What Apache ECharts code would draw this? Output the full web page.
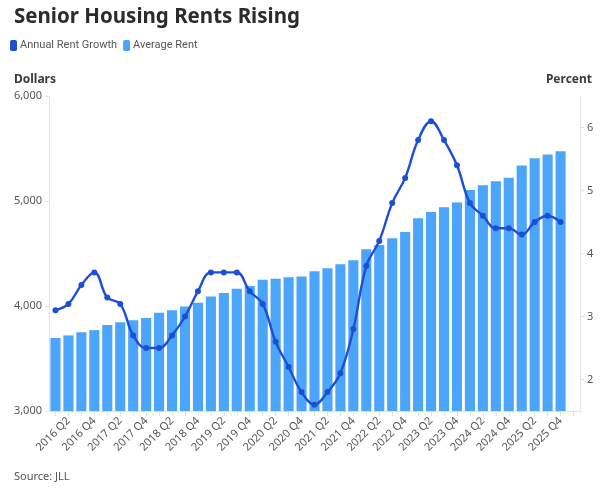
<!DOCTYPE html>
<html>
<head>
<meta charset="utf-8">
<script src="https://cdn.jsdelivr.net/npm/echarts@6/dist/echarts.min.js"></script>
<style>html,body{margin:0;padding:0;background:#fff}#c{width:615px;height:499px}</style>
</head>
<body>
<div id="c"></div>
<script>
const categories = [
  '2016 Q1','2016 Q2','2016 Q3','2016 Q4',
  '2017 Q1','2017 Q2','2017 Q3','2017 Q4',
  '2018 Q1','2018 Q2','2018 Q3','2018 Q4',
  '2019 Q1','2019 Q2','2019 Q3','2019 Q4',
  '2020 Q1','2020 Q2','2020 Q3','2020 Q4',
  '2021 Q1','2021 Q2','2021 Q3','2021 Q4',
  '2022 Q1','2022 Q2','2022 Q3','2022 Q4',
  '2023 Q1','2023 Q2','2023 Q3','2023 Q4',
  '2024 Q1','2024 Q2','2024 Q3','2024 Q4',
  '2025 Q1','2025 Q2','2025 Q3','2025 Q4'
];
const averageRent = [
  3695, 3720, 3750, 3770,
  3820, 3845, 3865, 3885,
  3935, 3960, 3995, 4030,
  4090, 4125, 4165, 4190,
  4250, 4260, 4275, 4282,
  4330, 4360, 4397, 4435,
  4540, 4580, 4645, 4705,
  4835, 4895, 4940, 4985,
  5105, 5150, 5187, 5222,
  5337, 5406, 5444, 5473
];
const rentGrowth = [
  3.1, 3.2, 3.5, 3.7,
  3.3, 3.2, 2.7, 2.5,
  2.5, 2.7, 3.0, 3.4,
  3.7, 3.7, 3.7, 3.4,
  3.2, 2.6, 2.2, 1.8,
  1.6, 1.8, 2.1, 2.8,
  3.8, 4.2, 4.8, 5.2,
  5.8, 6.1, 5.8, 5.4,
  4.8, 4.6, 4.4, 4.4,
  4.3, 4.5, 4.6, 4.5
];
const dollarTicks = [3000, 4000, 5000, 6000];
const percentTicks = [2, 3, 4, 5, 6];

const FONT = '"Noto Sans", sans-serif';
const chart = echarts.init(document.getElementById('c'), null, {renderer: 'canvas'});
chart.setOption({
  animation: false,
  backgroundColor: '#ffffff',
  textStyle: {fontFamily: FONT},
  title: [
    {text: 'Senior Housing Rents Rising', left: 9, top: 2,
     textStyle: {fontFamily: FONT, fontSize: 20.5, fontWeight: 'bold', color: '#2b2b2b'}},
    {text: 'Dollars', left: 9, top: 69,
     textStyle: {fontFamily: FONT, fontSize: 12, fontWeight: 'bold', color: '#3a3a3a'}},
    {text: 'Percent', right: 18, top: 69,
     textStyle: {fontFamily: FONT, fontSize: 12, fontWeight: 'bold', color: '#3a3a3a'}},
    {text: 'Source: JLL', left: 9, top: 466,
     textStyle: {fontFamily: FONT, fontSize: 11, fontWeight: 'normal', color: '#555'}}
  ],
  legend: {
    left: 5, top: 35, itemWidth: 7, itemHeight: 11, itemGap: 6,
    icon: 'roundRect',
    textStyle: {fontFamily: '"Roboto", sans-serif', fontSize: 11, color: '#555', padding: [0, 0, 0, -2]},
    data: ['Annual Rent Growth', 'Average Rent']
  },
  grid: {left: 49, right: 35, top: 96, bottom: 88, containLabel: false},
  xAxis: {
    type: 'category',
    data: categories,
    max: categories.length,
    boundaryGap: true,
    axisLine: {show: true, lineStyle: {color: '#e3e3e3'}},
    axisTick: {show: true, interval: 0, alignWithLabel: true, length: 5, lineStyle: {color: '#e3e3e3'}},
    axisLabel: {
      interval: function (i) { return i % 2 === 1; },
      rotate: 45, margin: 8, fontSize: 11, color: '#555', fontFamily: FONT,
      formatter: function (v) { return v == null ? '' : v; }
    }
  },
  yAxis: [
    {
      type: 'value', min: 3000, max: 6000, interval: 1000,
      splitLine: {show: false},
      axisLine: {show: true, lineStyle: {color: '#e3e3e3'}},
      axisTick: {show: true, length: 4, lineStyle: {color: '#e3e3e3'}},
      axisLabel: {fontSize: 11, color: '#555', margin: 7, fontFamily: FONT,
        customValues: dollarTicks,
        formatter: function (v) { return v.toLocaleString('en-US'); }}
    },
    {
      type: 'value', min: 1.5, max: 6.5, position: 'right',
      splitLine: {show: false},
      axisLine: {show: true, lineStyle: {color: '#e3e3e3'}},
      axisTick: {show: true, length: 4, inside: false, customValues: percentTicks, lineStyle: {color: '#e3e3e3'}},
      axisLabel: {fontSize: 11, color: '#555', margin: 7, fontFamily: FONT, customValues: percentTicks}
    }
  ],
  series: [
    {
      name: 'Annual Rent Growth', type: 'line', yAxisIndex: 1, data: rentGrowth,
      smooth: 0.4, symbol: 'circle', symbolSize: 6, z: 5,
      itemStyle: {color: '#1c4fd6'},
      lineStyle: {color: '#1c4fd6', width: 2.4}
    },
    {
      name: 'Average Rent', type: 'bar', yAxisIndex: 0, data: averageRent,
      barCategoryGap: '22%', z: 2,
      itemStyle: {color: '#4aa5fb'}
    }
  ]
});
</script>
</body>
</html>
